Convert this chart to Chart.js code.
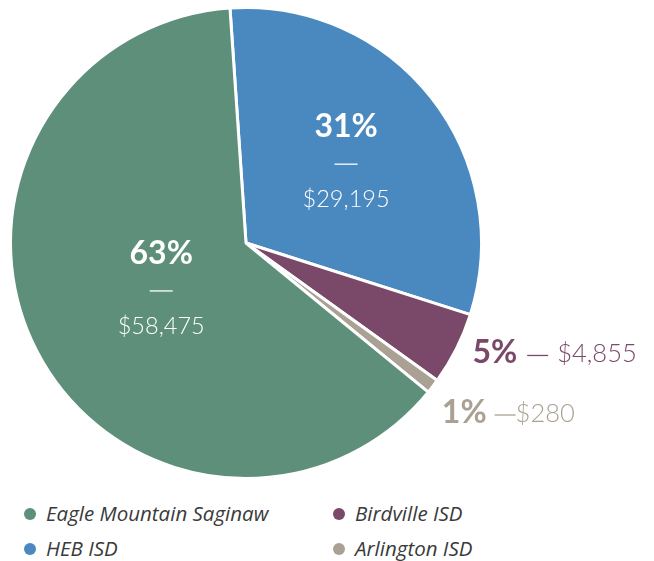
<!DOCTYPE html>
<html>
<head>
<meta charset="utf-8">
<script src="https://cdn.jsdelivr.net/npm/chart.js@4.4.0/dist/chart.umd.min.js"></script>
<style>
  html, body { margin: 0; padding: 0; background: #fff; }
  #wrap { position: relative; width: 654px; height: 561px; }
  #pie { position: absolute; left: 0; top: 0; }
  .item { position: absolute; font-family: 'Open Sans', sans-serif; font-style: italic; font-weight: 400; font-size: 20.5px; color: #3a3a3a; white-space: nowrap; }
  .dot { position: absolute; width: 12px; height: 12px; border-radius: 50%; }
</style>
</head>
<body>
<div id="wrap">
  <canvas id="pie" width="654" height="490"></canvas>
  <div id="legend"></div>
</div>
<script>
// slices, clockwise from the top
var districts = ['HEB ISD', 'Birdville ISD', 'Arlington ISD', 'Eagle Mountain Saginaw'];
var percents = [31, 5, 1, 63];
var amounts = ['$29,195', '$4,855', '$280', '$58,475'];
var colors = ['#4A89BF', '#7A4868', '#AAA194', '#5E8F7B'];

// legend order (two columns)
var legendOrder = ['Eagle Mountain Saginaw', 'HEB ISD', 'Birdville ISD', 'Arlington ISD'];

// label placement: inside (fraction of radius) or outside (offset from edge)
var labelPlace = [
  { inside: true, r: 0.54, dx: 0, dy: 0 },
  { inside: false, dx: 16, dy: 4, gap1: 10, gap2: 9 },
  { inside: false, dx: 9, dy: 26, gap1: 8, gap2: 0 },
  { inside: true, r: 0.41, dx: 1, dy: 4 },
];

function dash(ctx, x, y, w) {
  ctx.fillRect(x, y, w, 1.3);
}

var labelsPlugin = {
  id: 'sliceLabels',
  afterDatasetsDraw: function (chart) {
    var ctx = chart.ctx;
    var arcs = chart.getDatasetMeta(0).data;
    ctx.save();
    ctx.textBaseline = 'middle';
    arcs.forEach(function (arc, i) {
      var p = labelPlace[i];
      var mid = (arc.startAngle + arc.endAngle) / 2;
      var pct = percents[i] + '%';
      if (p.inside) {
        var r = arc.outerRadius * p.r;
        var x = arc.x + Math.cos(mid) * r + p.dx;
        var y = arc.y + Math.sin(mid) * r + p.dy;
        ctx.fillStyle = '#fff';
        ctx.textAlign = 'center';
        ctx.font = 'bold 32px Lato';
        ctx.fillText(pct, x, y - 38);
        dash(ctx, x - 11.5, y - 1, 23);
        ctx.font = '300 23.5px Lato';
        ctx.fillText(amounts[i], x, y + 35);
      } else {
        var x2 = arc.x + Math.cos(mid) * arc.outerRadius + p.dx;
        var y2 = arc.y + Math.sin(mid) * arc.outerRadius + p.dy;
        ctx.fillStyle = colors[i];
        ctx.textAlign = 'left';
        ctx.font = 'bold 32px Lato';
        ctx.fillText(pct, x2, y2);
        var w = ctx.measureText(pct).width;
        var dx = x2 + w + p.gap1;
        dash(ctx, dx, y2 + 2, 21);
        ctx.font = '300 25.5px Lato';
        ctx.fillText(amounts[i], dx + 21 + p.gap2, y2 + 1);
      }
    });
    ctx.restore();
  },
};

var ctx = document.getElementById('pie').getContext('2d');
var pieChart = new Chart(ctx, {
  type: 'pie',
  data: {
    labels: districts,
    datasets: [
      {
        data: percents,
        backgroundColor: colors,
        borderColor: '#fff',
        borderWidth: 3,
      },
    ],
  },
  options: {
    responsive: false,
    animation: false,
    rotation: -3.9,
    layout: { padding: { left: 9, top: 6, right: 171, bottom: 10 } },
    plugins: {
      legend: { display: false },
      tooltip: { enabled: false },
    },
  },
  plugins: [labelsPlugin],
});

// legend
var legend = document.getElementById('legend');
legendOrder.forEach(function (name, k) {
  var col = Math.floor(k / 2);
  var row = k % 2;
  var left = col === 0 ? 24 : 333;
  var top = row === 0 ? 514 : 549;
  var dot = document.createElement('div');
  dot.className = 'dot';
  dot.style.left = left + 'px';
  dot.style.top = (top - 6) + 'px';
  dot.style.background = colors[districts.indexOf(name)];
  legend.appendChild(dot);
  var txt = document.createElement('div');
  txt.className = 'item';
  txt.style.left = (left + 22) + 'px';
  txt.style.top = (top - 15) + 'px';
  txt.textContent = name;
  legend.appendChild(txt);
});
</script>
</body>
</html>
